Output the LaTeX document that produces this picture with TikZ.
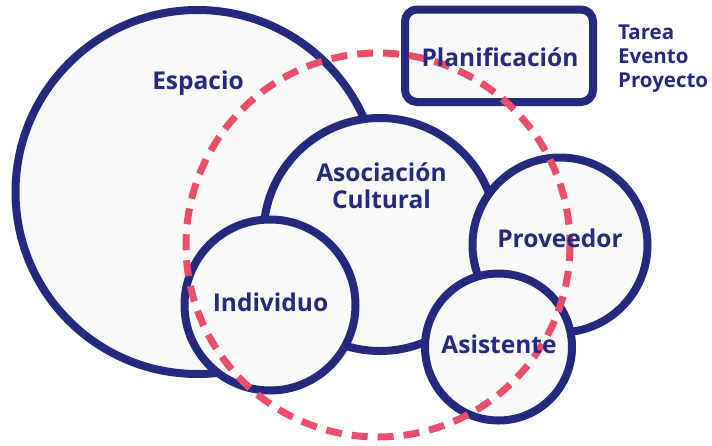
\documentclass[tikz,border=0pt]{standalone}
\usepackage{fontspec}
\setmainfont{Open Sans}
\definecolor{navy}{HTML}{252A7F}
\definecolor{pinkred}{HTML}{EC4D6A}
\definecolor{paper}{HTML}{FAFAFB}
\tikzset{
  setcirc/.style={draw=navy, line width=8pt, fill=paper},
  dashring/.style={draw=pinkred, line width=7pt, dash pattern=on 16pt off 10pt},
  lbl/.style={anchor=base, text=navy, font=\bfseries\fontsize{24.5}{27}\selectfont, inner sep=0pt},
  side/.style={anchor=base west, text=navy, font=\bfseries\fontsize{20.5}{24}\selectfont, inner sep=0pt}
}
\begin{document}
\begin{tikzpicture}[x=1pt, y=-1pt]
\useasboundingbox (0,0) rectangle (712,445);
% circles
\draw[setcirc] (197.5,192) circle (182);
\draw[setcirc] (380,234.5) circle (116.5);
\draw[setcirc] (270,305) circle (85.5);
\draw[setcirc] (560,245) circle (87.5);
\draw[setcirc] (498.5,347) circle (73.5);
% box
\node[draw=navy, line width=8pt, fill=paper, rounded corners=12pt, minimum width=188pt, minimum height=92.5pt, inner sep=0pt] (plan) at (499,55.75) {};
% dashed ring
\draw[dashring] (378,245) circle (192);
% labels
\node[lbl] (esp) at (198,89.5) {Espacio};
\node[lbl] (planl) at (500,66) {Planificación};
\node[lbl] (aso) at (381.5,181) {Asociación};
\node[lbl] (cul) at (381.5,208) {Cultural};
\node[lbl] (ind) at (270.5,311.5) {Individuo};
\node[lbl] (prov) at (560,247) {Proveedor};
\node[lbl] (asis) at (499,353) {Asistente};
\node[side] (t1) at (618,39) {Tarea};
\node[side] (t2) at (618,63) {Evento};
\node[side] (t3) at (618,87) {Proyecto};
\end{tikzpicture}
\end{document}
